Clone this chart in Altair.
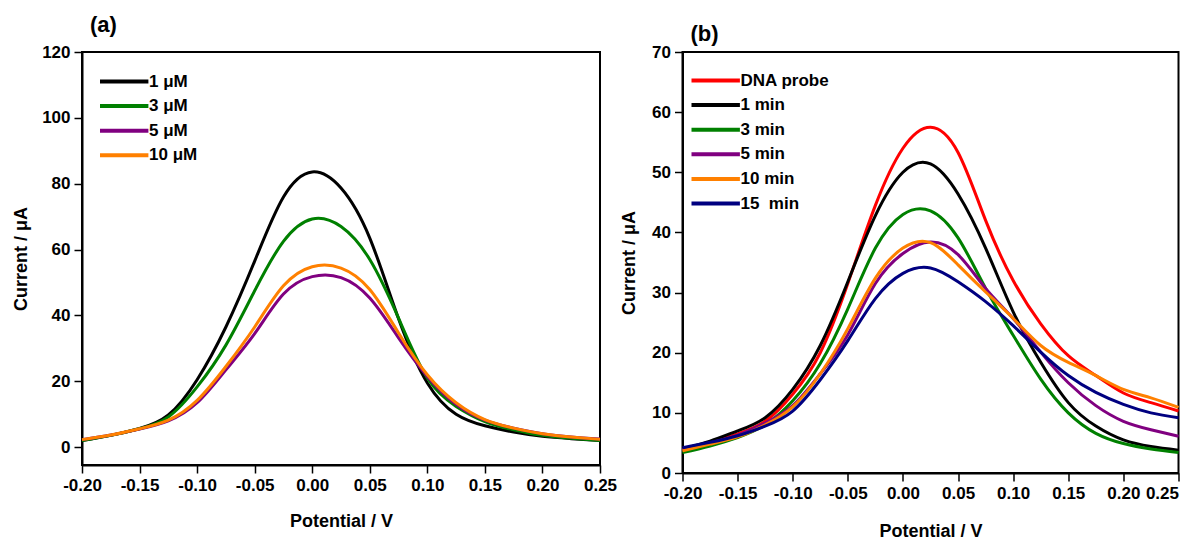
import altair as alt
import pandas as pd

FONT = "Arial, Liberation Sans, sans-serif"

# Potential grid (V)
potential = [-0.200, -0.175, -0.150, -0.125, -0.100, -0.075, -0.050, -0.025, 0.000,
             0.025, 0.050, 0.075, 0.100, 0.125, 0.150, 0.175, 0.200, 0.225, 0.250]
x_ticks = [-0.20, -0.15, -0.10, -0.05, 0.00, 0.05, 0.10, 0.15, 0.20, 0.25]

# ---------- panel (a) ----------
a_labels = ["1 μM", "3 μM", "5 μM", "10 μM"]
a_colors = ["#000000", "#008000", "#800080", "#FF8000"]
a_1uM = [2.0, 3.6, 5.7, 9.8, 20.5, 36.5, 56.5, 76.0, 83.6, 78.7, 63.5, 39.0, 19.5, 10.0, 6.5, 4.6, 3.3, 2.6, 2.0]
a_3uM = [2.0, 3.6, 5.6, 9.2, 18.3, 31.0, 47.5, 62.5, 69.3, 67.0, 57.0, 39.2, 21.0, 12.4, 7.8, 5.3, 3.6, 2.7, 2.0]
a_5uM = [2.3, 3.7, 5.5, 8.0, 13.5, 23.5, 34.5, 46.5, 51.8, 51.5, 45.3, 33.2, 21.5, 13.0, 8.2, 5.8, 4.1, 3.1, 2.5]
a_10uM = [2.3, 3.7, 5.6, 8.2, 14.2, 24.5, 36.5, 49.0, 54.8, 54.4, 47.9, 34.7, 22.0, 13.5, 8.4, 5.8, 4.1, 3.1, 2.4]
a_series = [a_1uM, a_3uM, a_5uM, a_10uM]
a_y_ticks = [0, 20, 40, 60, 80, 100, 120]

# ---------- panel (b) ----------
b_labels = ["DNA probe", "1 min", "3 min", "5 min", "10 min", "15\u00a0 min"]
b_colors = ["#FF0000", "#000000", "#008000", "#800080", "#FF8000", "#000080"]
b_probe = [3.9, 5.0, 6.5, 8.6, 13.1, 20.0, 31.5, 44.5, 54.0, 57.5, 53.3, 42.0, 32.0, 24.8, 19.5, 16.2, 13.3, 11.7, 10.3]
b_1min = [4.0, 5.3, 7.0, 9.2, 13.9, 21.2, 31.8, 42.8, 50.0, 51.4, 46.4, 37.4, 26.8, 18.4, 11.7, 7.8, 5.5, 4.4, 3.8]
b_3min = [3.4, 4.5, 5.9, 8.0, 12.0, 18.2, 27.3, 37.4, 43.0, 43.6, 39.1, 30.7, 22.9, 15.6, 10.0, 6.6, 4.9, 4.0, 3.4]
b_5min = [3.9, 5.0, 6.3, 8.3, 11.2, 16.5, 23.0, 31.5, 36.5, 38.4, 36.3, 30.7, 25.7, 20.1, 15.0, 11.2, 8.6, 7.2, 6.1]
b_10min = [3.7, 4.8, 6.0, 8.0, 11.0, 16.5, 24.0, 32.4, 37.4, 38.3, 34.6, 30.1, 25.7, 21.2, 18.4, 16.2, 13.9, 12.5, 10.9]
b_15min = [4.2, 5.1, 6.2, 7.8, 10.3, 15.5, 22.0, 29.0, 33.2, 34.1, 31.8, 28.5, 24.5, 20.1, 16.2, 13.4, 11.4, 10.0, 9.2]
b_series = [b_probe, b_1min, b_3min, b_5min, b_10min, b_15min]
b_y_ticks = [0, 10, 20, 30, 40, 50, 60, 70]


def build(labels, series):
    rows = []
    for k, (lab, vals) in enumerate(zip(labels, series)):
        for e, i in zip(potential, vals):
            rows.append({"E": e, "I": i, "s": lab, "k": k})
    return pd.DataFrame(rows)


label_expr = "(datum.value < -0.0001 ? '-' : '') + format(abs(datum.value), '.2f')"


def panel(df, labels, colors, ydom, yticks, w, h, title, title_off, title_dy,
          leg_x, leg_y, y_title_pad, x_title_pad, last_right):
    x_axis_kw = dict(values=x_ticks, labelExpr=label_expr,
                     labelFlush=False, labelOverlap=False,
                     title="Potential / V", titlePadding=x_title_pad)
    if last_right:
        x_axis_kw["labelAlign"] = {"condition": {"test": "datum.value > 0.24",
                                                 "value": "right"},
                                   "value": "center"}
    return alt.Chart(df).mark_line(strokeWidth=3, interpolate="natural").encode(
        x=alt.X("E:Q",
                scale=alt.Scale(domain=[-0.2, 0.25], nice=False, zero=False),
                axis=alt.Axis(**x_axis_kw)),
        y=alt.Y("I:Q",
                scale=alt.Scale(domain=ydom, nice=False, zero=False),
                axis=alt.Axis(values=yticks, title="Current / μA",
                              labelFlush=False, labelOverlap=False,
                              titlePadding=y_title_pad)),
        color=alt.Color("s:N",
                        scale=alt.Scale(domain=labels, range=colors),
                        legend=alt.Legend(title=None, orient="none",
                                          legendX=leg_x, legendY=leg_y,
                                          symbolType="M-1,0H3.4", symbolSize=484,
                                          symbolStrokeWidth=4,
                                          labelFont=FONT, labelFontSize=17,
                                          labelFontWeight="bold", labelColor="black",
                                          labelOffset=25, rowPadding=3.6,
                                          padding=0)),
        detail="k:N",
    ).properties(
        width=w, height=h,
        title=alt.TitleParams(title, anchor="start", frame="group", dx=8,
                              dy=title_dy, offset=title_off, fontSize=22,
                              fontWeight="bold", font=FONT, color="black"),
    )


dfa = build(a_labels, a_series)
dfb = build(b_labels, b_series)

pa = panel(dfa, a_labels, a_colors, [-5.4, 120], a_y_ticks, 518, 413, "(a)", 6.4, 0,
           16, 16.5, 11, 19, False)
pb = panel(dfb, b_labels, b_colors, [0, 70], b_y_ticks, 496, 421, "(b)", 0, 3,
           7, 15.5, 13, 21, True)

chart = alt.hconcat(pa, pb, spacing=1.5).resolve_scale(
    color="independent"
).resolve_legend(
    color="independent"
).properties(
    padding={"left": 3, "top": 4, "right": 0, "bottom": 0},
    background="white",
).configure_view(
    stroke="black", strokeWidth=2
).configure_axis(
    grid=False,
    domainColor="black", domainWidth=2,
    tickColor="black", tickWidth=1.5, tickSize=8,
    labelFont=FONT, labelFontSize=17, labelFontWeight="bold", labelColor="black",
    labelPadding=4,
    titleFont=FONT, titleFontSize=18, titleFontWeight="bold", titleColor="black",
)

chart.save("out.html", embed_options={"renderer": "svg", "actions": False})
